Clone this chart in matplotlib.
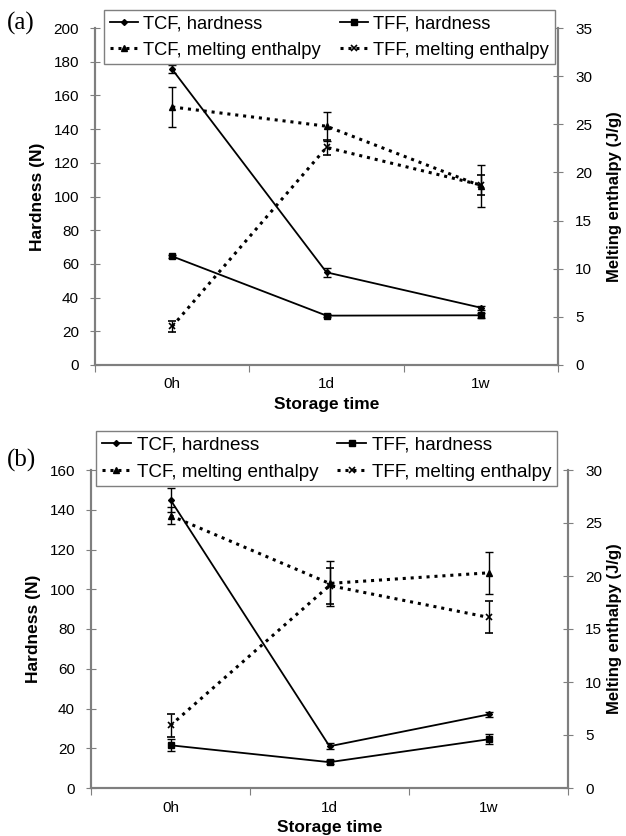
import matplotlib
matplotlib.use("Agg")
import matplotlib.pyplot as plt
import numpy as np

plt.rcParams['font.family'] = ['Liberation Sans', 'DejaVu Sans']

#-------------------------------------------
#              Data
#-------------------------------------------
times = ["0h", "1d", "1w"]

# panel (a)
a_tcf_hard = [175.5, 55, 34]
a_tcf_hard_err = [2.5, 2.5, 1.2]
a_tff_hard = [64.5, 29.3, 29.5]
a_tff_hard_err = [0.8, 1.0, 1.5]
a_tcf_melt = [26.8, 24.8, 18.6]
a_tcf_melt_err = [2.1, 1.5, 2.2]
a_tff_melt = [4.0, 22.6, 18.7]
a_tff_melt_err = [0.6, 0.8, 1.0]

# panel (b)
b_tcf_hard = [145, 21, 37]
b_tcf_hard_err = [6, 1.5, 1.2]
b_tff_hard = [21.5, 13, 24.5]
b_tff_hard_err = [3, 1.0, 2.5]
b_tcf_melt = [25.7, 19.3, 20.3]
b_tcf_melt_err = [0.8, 2.1, 2.0]
b_tff_melt = [5.9, 19.1, 16.1]
b_tff_melt_err = [1.1, 1.7, 1.5]

GRAY = '#7f7f7f'
DOT = (0, (1.0, 1.6))
W, H = 626, 836


def panel(fig, rect, hard, melt, hlim, hstep, mlim, mstep, tag, tagpos, legpos, legsize):
    ax = fig.add_axes(rect)
    ax2 = ax.twinx()
    x = np.arange(len(times))
    ekw = dict(color='black', capsize=3, elinewidth=1, capthick=1)

    (tcf_h, tcf_he), (tff_h, tff_he) = hard
    (tcf_m, tcf_me), (tff_m, tff_me) = melt

    l1 = ax.errorbar(x, tcf_h, yerr=tcf_he, marker='D', ms=3, lw=1.3, ls='-', **ekw)
    l2 = ax.errorbar(x, tff_h, yerr=tff_he, marker='s', ms=4.5, lw=1.3, ls='-', **ekw)
    l3 = ax2.errorbar(x, tcf_m, yerr=tcf_me, marker='^', ms=4, lw=2.2, ls=DOT, **ekw)
    l4 = ax2.errorbar(x, tff_m, yerr=tff_me, marker='x', ms=4, mew=1.2, lw=2.2, ls=DOT, **ekw)

    ax.set_xlim(-0.5, len(times) - 0.5)
    ax.set_ylim(*hlim)
    ax.set_yticks(np.arange(hlim[0], hlim[1] + 1, hstep))
    ax2.set_ylim(*mlim)
    ax2.set_yticks(np.arange(mlim[0], mlim[1] + 1, mstep))

    # category labels sit between the tick marks
    ax.set_xticks(np.arange(-0.5, len(times), 1.0))
    ax.set_xticklabels([])
    ax.set_xticks(x, minor=True)
    ax.set_xticklabels(times, minor=True)
    ax.tick_params(axis='x', which='major', direction='out', length=5, color=GRAY)
    ax.tick_params(axis='x', which='minor', length=0, labelsize=11, pad=9)
    ax.tick_params(axis='y', direction='inout', length=7, color=GRAY, labelsize=11, pad=8)
    ax2.tick_params(axis='y', direction='inout', length=7, color=GRAY, labelsize=11, pad=9)

    for a in (ax, ax2):
        a.spines['top'].set_visible(False)
        for s in ('left', 'right', 'bottom'):
            a.spines[s].set_color(GRAY)
            a.spines[s].set_linewidth(1.5)

    ax.set_xlabel("Storage time", fontweight='bold', fontsize=12.5, labelpad=4)
    ax.set_ylabel("Hardness (N)", fontweight='bold', fontsize=12.5, labelpad=6)
    ax2.set_ylabel("Melting enthalpy (J/g)", fontweight='bold', fontsize=12,
                   rotation=90, va='center')
    left_px = rect[0] * W
    width_px = rect[2] * W
    ax2.yaxis.set_label_coords((614 - left_px) / width_px, 0.5)

    leg = fig.legend([l1[0], l3[0], l2[0], l4[0]],
                     ["TCF, hardness", "TCF, melting enthalpy",
                      "TFF, hardness", "TFF, melting enthalpy"],
                     ncol=2, loc='upper left', bbox_to_anchor=legpos,
                     bbox_transform=fig.transFigure, borderaxespad=0,
                     fancybox=False, framealpha=1, edgecolor=GRAY, fontsize=legsize,
                     handlelength=1.55, handletextpad=0.3, labelspacing=0.5,
                     columnspacing=1.0, borderpad=0.3)
    leg.get_frame().set_linewidth(1.0)
    fig.text(tagpos[0], tagpos[1], tag, fontsize=18, family='Liberation Serif',
             ha='left', va='center')
    return ax, ax2


fig = plt.figure(figsize=(W / 100, H / 100), dpi=100)

panel(fig, [95 / W, 1 - 365 / H, 463 / W, 337 / H],
      ((a_tcf_hard, a_tcf_hard_err), (a_tff_hard, a_tff_hard_err)),
      ((a_tcf_melt, a_tcf_melt_err), (a_tff_melt, a_tff_melt_err)),
      (0, 200), 20, (0, 35), 5, "(a)", (7 / W, 1 - 23 / H),
      (104 / W, 1 - 10 / H), 13.2)

panel(fig, [91 / W, 1 - 788 / H, 477 / W, 318 / H],
      ((b_tcf_hard, b_tcf_hard_err), (b_tff_hard, b_tff_hard_err)),
      ((b_tcf_melt, b_tcf_melt_err), (b_tff_melt, b_tff_melt_err)),
      (0, 160), 20, (0, 30), 5, "(b)", (7 / W, 1 - 460 / H),
      (96 / W, 1 - 431 / H), 13.6)

fig.savefig("out.png", dpi=100)
